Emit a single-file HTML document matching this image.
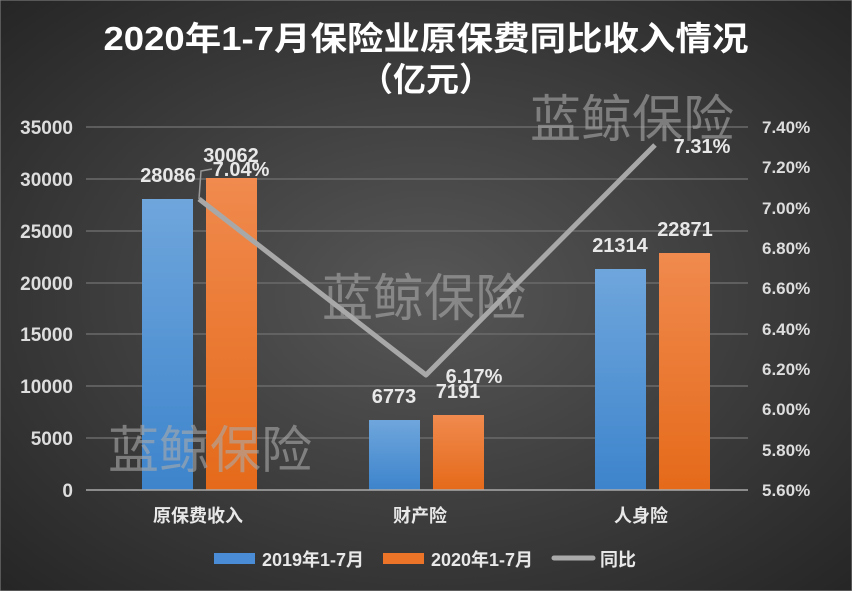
<!DOCTYPE html>
<html><head><meta charset="utf-8"><style>
body{margin:0;width:852px;height:591px;overflow:hidden;}
</style></head><body>
<svg width="852" height="591" xmlns="http://www.w3.org/2000/svg" font-family="Liberation Sans, Noto Sans CJK SC, sans-serif">
<defs>
<radialGradient id="bg" cx="50%" cy="50%" r="70%">
<stop offset="0" stop-color="#575757"/><stop offset="1" stop-color="#262626"/>
</radialGradient>
<linearGradient id="bl" x1="0" y1="0" x2="0" y2="1"><stop offset="0" stop-color="#6fa6dc"/><stop offset="1" stop-color="#3d84cc"/></linearGradient>
<linearGradient id="or" x1="0" y1="0" x2="0" y2="1"><stop offset="0" stop-color="#f08a4e"/><stop offset="1" stop-color="#e56a1a"/></linearGradient>
</defs>
<rect width="852" height="591" fill="url(#bg)" stroke="#888" stroke-width="1"/>
<g fill="#fff" font-weight="bold" font-size="33" text-anchor="middle">
<text x="426" y="50" textLength="645" lengthAdjust="spacingAndGlyphs">2020年1-7月保险业原保费同比收入情况</text>
<text x="426" y="91">（亿元）</text>
</g>
<g stroke="#6a6a6a" stroke-width="1.5">
<line x1="86" x2="748" y1="127" y2="127"/><line x1="86" x2="748" y1="179" y2="179"/>
<line x1="86" x2="748" y1="231" y2="231"/><line x1="86" x2="748" y1="283" y2="283"/>
<line x1="86" x2="748" y1="334" y2="334"/><line x1="86" x2="748" y1="386" y2="386"/>
<line x1="86" x2="748" y1="438" y2="438"/>
</g>
<g fill="#ddd" font-weight="bold" font-size="19" text-anchor="end">
<text x="73" y="134">35000</text><text x="73" y="186">30000</text><text x="73" y="238">25000</text>
<text x="73" y="290">20000</text><text x="73" y="341">15000</text><text x="73" y="393">10000</text>
<text x="73" y="445">5000</text><text x="73" y="497">0</text>
</g>
<g fill="#ddd" font-weight="bold" font-size="17">
<text x="762" y="133">7.40%</text><text x="762" y="173">7.20%</text><text x="762" y="214">7.00%</text>
<text x="762" y="254">6.80%</text><text x="762" y="294">6.60%</text><text x="762" y="335">6.40%</text>
<text x="762" y="375">6.20%</text><text x="762" y="415">6.00%</text><text x="762" y="456">5.80%</text>
<text x="762" y="496">5.60%</text>
</g>
<rect x="142" y="199" width="51" height="291" fill="url(#bl)"/>
<rect x="206" y="178" width="51" height="312" fill="url(#or)"/>
<rect x="369" y="420" width="51" height="70" fill="url(#bl)"/>
<rect x="433" y="415" width="51" height="75" fill="url(#or)"/>
<rect x="595" y="269" width="51" height="221" fill="url(#bl)"/>
<rect x="659" y="253" width="51" height="237" fill="url(#or)"/>
<line x1="86" x2="748" y1="490" y2="490" stroke="#aaa" stroke-width="1.5"/>
<polyline points="199,199 426,375 655,145" fill="none" stroke="#a8a8a8" stroke-width="5" stroke-linejoin="round"/>
<polyline points="199,199 201,171 212,169" fill="none" stroke="#999" stroke-width="1.5"/>
<g fill="#aaa" opacity="0.6" font-size="51">
<text x="530" y="137">蓝鲸保险</text>
<text x="322" y="316">蓝鲸保险</text>
<text x="108" y="468">蓝鲸保险</text>
</g>
<g fill="#e8e8e8" font-weight="bold" font-size="20" text-anchor="middle">
<text x="168" y="182">28086</text><text x="231" y="162">30062</text><text x="241" y="176">7.04%</text>
<text x="394" y="403">6773</text><text x="458" y="398">7191</text><text x="474" y="383">6.17%</text>
<text x="620" y="252">21314</text><text x="685" y="236">22871</text><text x="702" y="153">7.31%</text>
</g>
<g fill="#e8e8e8" font-weight="bold" font-size="18" text-anchor="middle">
<text x="198" y="522">原保费收入</text><text x="420" y="522">财产险</text><text x="641" y="522">人身险</text>
</g>
<rect x="214" y="553" width="41" height="11" fill="#4a8dd6"/>
<rect x="383" y="553" width="41" height="11" fill="#ec7428"/>
<line x1="554" x2="593" y1="558" y2="558" stroke="#aaa" stroke-width="5" stroke-linecap="round"/>
<g fill="#e8e8e8" font-weight="bold" font-size="18">
<text x="262" y="566">2019年1-7月</text><text x="431" y="566">2020年1-7月</text><text x="600" y="566">同比</text>
</g>
</svg>
</body></html>
